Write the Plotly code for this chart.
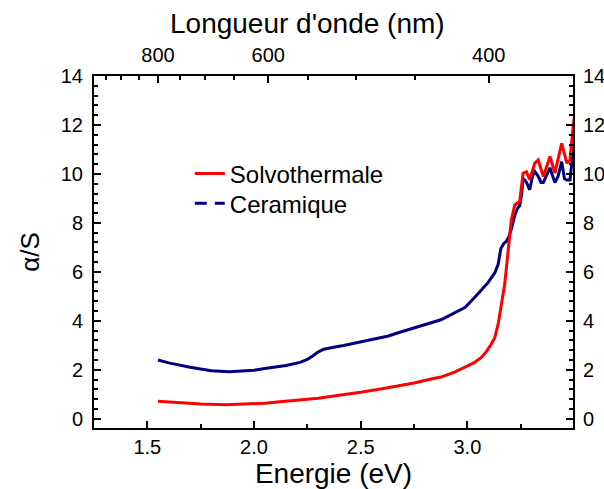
import plotly.graph_objects as go

# energies (eV) and alpha/S
e_cer = [1.55, 1.60, 1.70, 1.80, 1.885, 1.95, 2.00, 2.05, 2.10, 2.15, 2.216, 2.25,
         2.278, 2.30, 2.327, 2.35, 2.373, 2.42, 2.47, 2.514, 2.55, 2.593, 2.63, 2.672,
         2.71, 2.75, 2.798, 2.84, 2.876, 2.908, 2.94, 2.97, 2.99, 3.017, 3.04, 3.065,
         3.08, 3.096, 3.112, 3.128, 3.144, 3.157, 3.17, 3.183, 3.195, 3.206, 3.222,
         3.235, 3.245, 3.255, 3.261, 3.27, 3.277, 3.292, 3.305, 3.316, 3.332, 3.345,
         3.356, 3.37, 3.387, 3.40, 3.41, 3.425, 3.442, 3.455, 3.466, 3.481, 3.497]
a_cer = [2.40, 2.28, 2.10, 1.96, 1.92, 1.94, 1.98, 2.05, 2.11, 2.17, 2.30, 2.42,
         2.58, 2.72, 2.84, 2.89, 2.92, 2.99, 3.08, 3.16, 3.23, 3.30, 3.38, 3.50,
         3.60, 3.70, 3.82, 3.93, 4.04, 4.18, 4.32, 4.45, 4.55, 4.80, 5.00, 5.25,
         5.40, 5.55, 5.75, 5.95, 6.30, 6.95, 7.15, 7.25, 7.45, 7.75, 8.30,
         8.60, 8.70, 9.20, 9.80, 9.75, 9.65, 9.35, 9.90, 10.10, 9.90, 9.65,
         9.65, 9.90, 10.25, 9.90, 9.65, 9.90, 10.50, 9.80, 9.75, 9.75, 11.10]

e_sol = [1.55, 1.65, 1.75, 1.87, 1.95, 2.05, 2.121, 2.216, 2.30, 2.357, 2.45, 2.50,
         2.593, 2.68, 2.75, 2.83, 2.876, 2.94, 2.987, 3.03, 3.065, 3.09, 3.112, 3.128,
         3.144, 3.159, 3.175, 3.19, 3.206, 3.222, 3.245, 3.261, 3.277, 3.292, 3.316,
         3.332, 3.356, 3.387, 3.41, 3.442, 3.466, 3.481, 3.497, 3.51]
a_sol = [0.71, 0.64, 0.60, 0.57, 0.59, 0.63, 0.69, 0.76, 0.84, 0.91, 1.01, 1.08,
         1.21, 1.34, 1.46, 1.62, 1.70, 1.90, 2.10, 2.28, 2.50, 2.75, 3.05, 3.30,
         3.85, 4.70, 5.50, 6.76, 8.12, 8.73, 8.87, 10.03, 10.09, 9.76, 10.44,
         10.57, 9.89, 10.71, 10.03, 11.25, 10.44, 10.57, 12.07, 12.8]

# top axis: wavelengths (nm)
wl_major = [800, 600, 400]
wl_minor = [950, 900, 850, 750, 700, 650, 550, 500, 450]

x_range = [1.25, 3.495]
y_range = [-0.38, 14]

font = "Liberation Sans, Arial, sans-serif"

fig = go.Figure()
fig.add_trace(go.Scatter(x=e_cer, y=a_cer, mode="lines", name="Ceramique",
                         line=dict(color="#000080", width=3), showlegend=False))
fig.add_trace(go.Scatter(x=e_sol, y=a_sol, mode="lines", name="Solvothermale",
                         line=dict(color="#ff0000", width=3), legend="legend"))
# legend entry for Ceramique is drawn dashed in the original
fig.add_trace(go.Scatter(x=[None], y=[None], mode="lines", name="Ceramique",
                         line=dict(color="#000080", width=3, dash="12px,8px"),
                         legend="legend2"))
# empty traces so the top and right axes get drawn
fig.add_trace(go.Scatter(x=[None], y=[None], xaxis="x2", yaxis="y", showlegend=False,
                         hoverinfo="skip"))
fig.add_trace(go.Scatter(x=[None], y=[None], xaxis="x", yaxis="y2", showlegend=False,
                         hoverinfo="skip"))

axis_common = dict(showline=True, linecolor="black", linewidth=2, ticks="inside",
                   tickcolor="black", tickwidth=1.5, showgrid=False, zeroline=False,
                   automargin=False,
                   tickfont=dict(family=font, size=20, color="black"))

legend_common = dict(xanchor="left", yanchor="top", bgcolor="rgba(0,0,0,0)",
                     font=dict(family=font, size=24, color="black"))

fig.update_layout(
    width=604, height=489,
    margin=dict(l=94, r=31, t=76, b=61),
    paper_bgcolor="white", plot_bgcolor="white",
    font=dict(family=font, color="black"),
    xaxis=dict(range=x_range, tick0=0, dtick=0.5, ticklen=7, tickformat=".1f",
               title=dict(text="Energie (eV)", font=dict(size=28), standoff=0),
               minor=dict(dtick=0.25, ticks="inside", ticklen=4, tickcolor="black"),
               **axis_common),
    xaxis2=dict(range=x_range, overlaying="x", side="top", anchor="y",
                tickmode="array", tickvals=[1240 / w for w in wl_major],
                ticktext=[str(w) for w in wl_major], ticklen=7, ticklabelstandoff=4,
                minor=dict(tickmode="array", tickvals=[1240 / w for w in wl_minor],
                           ticks="inside", ticklen=4, tickcolor="black"),
                **axis_common),
    yaxis=dict(range=y_range, tick0=0, dtick=2, ticklen=7, ticklabelstandoff=5,
               title=dict(text="α/S", font=dict(size=26), standoff=14),
               minor=dict(dtick=0.4, ticks="inside", ticklen=4, tickcolor="black"),
               **axis_common),
    yaxis2=dict(range=y_range, overlaying="y", side="right", anchor="x",
                tick0=0, dtick=2, ticklen=7, ticklabelstandoff=4,
                minor=dict(dtick=0.4, ticks="inside", ticklen=4, tickcolor="black"),
                **axis_common),
    legend=dict(x=0.2, y=0.786, **legend_common),
    legend2=dict(x=0.2, y=0.701, **legend_common),
    # top axis title sits left of centre in the original
    annotations=[dict(text="Longueur d'onde (nm)", xref="paper", yref="paper",
                      x=0.445, y=1.148, xanchor="center", yanchor="middle",
                      showarrow=False, font=dict(family=font, size=28, color="black"))],
)

# the page body has a default 8px margin; drop it so the figure sits at the corner
fig.write_html("out.html", config={"displayModeBar": False},
               post_script="document.body.style.margin='0';")
